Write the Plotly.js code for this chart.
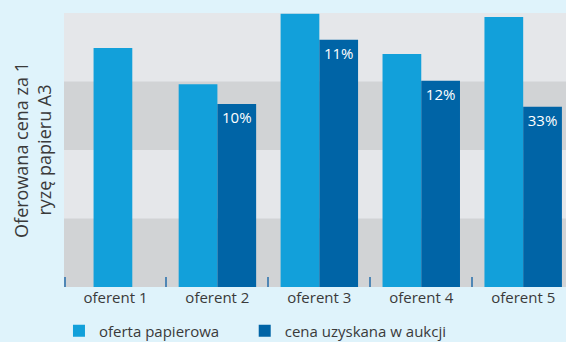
<!DOCTYPE html>
<html>
<head>
<meta charset="utf-8">
<script src="https://cdn.plot.ly/plotly-3.0.1.min.js"></script>
<style>
html,body{margin:0;padding:0;background:#dff3fb;overflow:hidden;}
#chart{width:566px;height:342px;}
</style>
</head>
<body>
<div id="chart"></div>
<script>
const categories = ["oferent 1", "oferent 2", "oferent 3", "oferent 4", "oferent 5"];
const paperOffer = [3.49, 2.96, 3.99, 3.40, 3.94];
const auctionPrice = [null, 2.67, 3.61, 3.01, 2.63];
const savingsLabels = ["", "10%", "11%", "12%", "33%"];
const seriesNames = ["oferta papierowa", "cena uzyskana w aukcji"];
const yTitle = "Oferowana cena za 1<br>ryzę papieru A3";
const bandLow = [0, 2];

const FONT = "Open Sans, sans-serif";

const traces = [
  {
    type: "bar",
    name: seriesNames[0],
    x: categories,
    y: paperOffer,
    width: 0.38,
    offset: [-0.215, -0.38, -0.38, -0.38, -0.38],
    marker: {color: "#12a0da"},
    legend: "legend",
    hoverinfo: "skip"
  },
  {
    type: "bar",
    name: seriesNames[1],
    x: categories,
    y: auctionPrice,
    width: 0.38,
    offset: 0,
    text: savingsLabels,
    textposition: "inside",
    insidetextanchor: "end",
    textangle: 0,
    textfont: {family: FONT, size: 15, color: "#ffffff"},
    marker: {color: "#0064a6"},
    legend: "legend2",
    hoverinfo: "skip"
  }
];

const shapes = bandLow.map(v => ({
  type: "rect", xref: "paper", yref: "y", layer: "below",
  x0: 0, x1: 1, y0: v, y1: v + 1,
  fillcolor: "#d1d3d5", line: {width: 0}
}));
// first boundary tick at the left edge of the plot
shapes.push({
  type: "line", xref: "paper", yref: "paper", layer: "above",
  x0: 0.002, x1: 0.002, y0: 0, y1: 10 / 274,
  line: {color: "#4f86b5", width: 2}
});

const legendStyle = {
  orientation: "h",
  xanchor: "left",
  y: -0.1, yanchor: "top",
  font: {family: FONT, size: 15, color: "#3a3a3a"},
  bgcolor: "rgba(0,0,0,0)",
  itemwidth: 30
};

const layout = {
  width: 566, height: 342,
  margin: {l: 64, r: 0, t: 13, b: 55, autoexpand: false},
  paper_bgcolor: "#dff3fb",
  plot_bgcolor: "#e5e7ea",
  barmode: "overlay",
  showlegend: true,
  font: {family: FONT, color: "#3a3a3a"},
  xaxis: {
    type: "category",
    range: [-0.505, 4.42],
    ticks: "inside",
    tickson: "boundaries",
    ticklen: 10,
    tickwidth: 2,
    tickcolor: "#4f86b5",
    showgrid: false,
    showline: false,
    zeroline: false,
    automargin: false,
    tickfont: {family: FONT, size: 15, color: "#3a3a3a"},
    fixedrange: true
  },
  yaxis: {
    range: [0, 4],
    showticklabels: false,
    showgrid: false,
    zeroline: false,
    ticks: "",
    automargin: false,
    title: {text: yTitle, font: {family: FONT, size: 18, color: "#3a3a3a"}, standoff: 6},
    fixedrange: true
  },
  legend: Object.assign({}, legendStyle, {x: -0.01}),
  legend2: Object.assign({}, legendStyle, {x: 0.36}),
  shapes: shapes
};

Plotly.newPlot("chart", traces, layout, {displayModeBar: false, staticPlot: true});
</script>
</body>
</html>
